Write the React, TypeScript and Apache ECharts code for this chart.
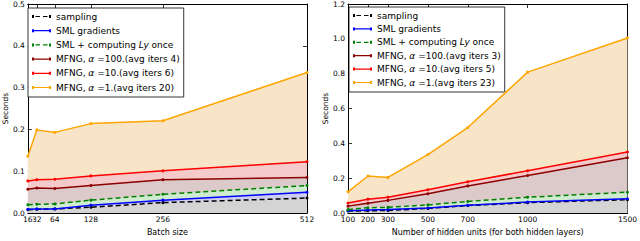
import React, { useEffect, useRef } from 'react';
import * as echarts from 'echarts';

// ---------- data ----------
const batchSizes = [16, 32, 64, 128, 256, 512];
const leftSampling = [0.008, 0.009, 0.010, 0.014, 0.025, 0.036];
const leftSmlGrad = [0.009, 0.010, 0.010, 0.019, 0.031, 0.050];
const leftSmlLy = [0.020, 0.021, 0.022, 0.031, 0.045, 0.066];
const leftMfng100 = [0.057, 0.060, 0.059, 0.066, 0.080, 0.085];
const leftMfng10 = [0.077, 0.080, 0.081, 0.089, 0.101, 0.123];
const leftMfng1 = [0.136, 0.199, 0.193, 0.214, 0.221, 0.336];

const hiddenUnits = [100, 200, 300, 500, 700, 1000, 1500];
const rightSampling = [0.012, 0.013, 0.015, 0.027, 0.043, 0.060, 0.077];
const rightSmlGrad = [0.014, 0.018, 0.020, 0.029, 0.045, 0.063, 0.082];
const rightSmlLy = [0.020, 0.031, 0.033, 0.047, 0.067, 0.091, 0.120];
const rightMfng100 = [0.040, 0.056, 0.073, 0.111, 0.156, 0.216, 0.318];
const rightMfng10 = [0.058, 0.080, 0.091, 0.134, 0.180, 0.243, 0.351];
const rightMfng1 = [0.122, 0.213, 0.205, 0.336, 0.491, 0.809, 1.005];

const leftNames = [
  'sampling',
  'SML gradients',
  'SML + computing Ly once',
  'MFNG, α =100.(avg iters 4)',
  'MFNG, α =10.(avg iters 6)',
  'MFNG, α =1.(avg iters 20)',
];
const rightNames = [
  'sampling',
  'SML gradients',
  'SML + computing Ly once',
  'MFNG, α =100.(avg iters 3)',
  'MFNG, α =10.(avg iters 5)',
  'MFNG, α =1.(avg iters 23)',
];
const leftXLabels = [16, 64, 128, 256, 512];
const leftXExtraLabels = [32];
const leftYTicks = [0, 0.1, 0.2, 0.3, 0.4, 0.5];
const rightYTicks = [0, 0.2, 0.4, 0.6, 0.8, 1.0, 1.2];

// ---------- styles ----------
const lineColors = ['#000000', '#0000ff', '#008000', '#8b0000', '#ff0000', '#ffa500'];
const bandColors = ['#d4d4d4', '#cdcdf0', '#d0ecd0', '#dccaca', '#f5caca', '#f8e4c6'];
const dashed = [true, false, true, false, false, false];
const FONT = 'DejaVu Sans';
const TICK_FONT = 7.5;

const ICON_SOLID = 'path://M0,0H2V3H0Z M2,0.9H17V2.1H2Z M17,0H19V3H17Z';
const ICON_DASH = 'path://M0,0H2V3H0Z M3.5,0.9H8V2.1H3.5Z M11,0.9H15.5V2.1H11Z M17,0H19V3H17Z';

function buildSeries(xs: number[], ys: number[][], names: string[], xi: number, yi: number) {
  const out: any[] = [];
  ys.forEach((hi, i) => {
    const lo = i > 0 ? ys[i - 1] : xs.map(() => 0);
    out.push({
      type: 'custom',
      name: 'band_' + xi + '_' + i,
      xAxisIndex: xi,
      yAxisIndex: yi,
      silent: true,
      z: 1,
      data: [[xs[0], 0]],
      renderItem: (_params: any, api: any) => {
        const pts: number[][] = [];
        for (let j = 0; j < xs.length; j++) pts.push(api.coord([xs[j], hi[j]]));
        for (let j = xs.length - 1; j >= 0; j--) pts.push(api.coord([xs[j], lo[j]]));
        return {
          type: 'polygon',
          shape: { points: pts },
          style: { fill: bandColors[i], stroke: 'none' },
        };
      },
    });
  });
  ys.forEach((arr, i) => {
    out.push({
      type: 'line',
      name: names[i],
      xAxisIndex: xi,
      yAxisIndex: yi,
      data: xs.map((x, j) => [x, arr[j]]),
      symbol: 'circle',
      symbolSize: 3,
      showSymbol: true,
      lineStyle: { color: lineColors[i], width: 1.5, type: dashed[i] ? [5, 3] : 'solid' },
      itemStyle: { color: lineColors[i] },
      z: 3 + i,
    });
  });
  return out;
}

// extra tick labels that sit on top of their neighbour (as in the reference)
function extraLabelSeries(values: number[], xi: number, yi: number) {
  return {
    type: 'custom',
    name: 'extra_labels',
    xAxisIndex: xi,
    yAxisIndex: yi,
    silent: true,
    clip: false,
    z: 10,
    data: values.map((v) => [v, 0]),
    renderItem: (_params: any, api: any) => {
      const p = api.coord([api.value(0), 0]);
      return {
        type: 'text',
        x: p[0],
        y: p[1] + 2,
        style: {
          text: String(api.value(0)),
          fill: '#000',
          fontSize: TICK_FONT,
          fontFamily: FONT,
          align: 'center',
          verticalAlign: 'top',
        },
      };
    },
  };
}

const axisLineStyle = { color: '#000', width: 1 };
const tickStyle = { color: '#000', width: 0.8 };

function xAxes(grid: number, min: number, max: number, ticks: number[], labels: number[], name: string) {
  return [
    {
      gridIndex: grid, type: 'value', min, max, position: 'bottom',
      axisLine: { onZero: false, lineStyle: axisLineStyle },
      axisTick: { inside: true, length: 4, customValues: ticks, lineStyle: tickStyle },
      axisLabel: {
        customValues: labels, fontSize: TICK_FONT, color: '#000', margin: 2, fontFamily: FONT,
        showMinLabel: true, showMaxLabel: true, hideOverlap: false,
        formatter: (v: number) => String(v),
      },
      splitLine: { show: false },
      name, nameLocation: 'middle', nameGap: 12,
      nameTextStyle: { fontSize: 8, color: '#000', fontFamily: FONT },
    },
    {
      gridIndex: grid, type: 'value', min, max, position: 'top',
      axisLine: { onZero: false, lineStyle: axisLineStyle },
      axisTick: { inside: true, length: 4, customValues: ticks, lineStyle: tickStyle },
      axisLabel: { show: false },
      splitLine: { show: false },
    },
  ];
}

function yAxes(grid: number, max: number, interval: number, ticks: number[]) {
  return [
    {
      gridIndex: grid, type: 'value', min: 0, max, interval, position: 'left',
      axisLine: { onZero: false, lineStyle: axisLineStyle },
      axisTick: { inside: true, length: 4, customValues: ticks, lineStyle: tickStyle },
      axisLabel: {
        customValues: ticks, fontSize: TICK_FONT, color: '#000', margin: 3, fontFamily: FONT,
        showMinLabel: true, showMaxLabel: true, hideOverlap: false,
        formatter: (v: number) => v.toFixed(1),
      },
      splitLine: { show: false },
      name: 'Seconds', nameLocation: 'middle', nameGap: 14,
      nameTextStyle: { fontSize: 7.5, color: '#000', fontFamily: FONT },
    },
    {
      gridIndex: grid, type: 'value', min: 0, max, interval, position: 'right',
      axisLine: { onZero: false, lineStyle: axisLineStyle },
      axisTick: { inside: true, length: 4, customValues: ticks, lineStyle: tickStyle },
      axisLabel: { show: false },
      splitLine: { show: false },
    },
  ];
}

const legendRich = { i: { fontStyle: 'italic', fontSize: 9, fontFamily: FONT, color: '#000' } };
const legendFmt = (name: string) => name.replace('α', '{i|α}').replace('Ly', '{i|Ly}');

function legendOf(names: string[], left: number, top: number, gap: number) {
  return {
    data: names.map((n, i) => ({ name: n, icon: dashed[i] ? ICON_DASH : ICON_SOLID })),
    orient: 'vertical',
    left, top,
    itemWidth: 19,
    itemHeight: 3,
    itemGap: gap,
    padding: [3, 4, 4, 4],
    borderColor: '#000',
    borderWidth: 0.8,
    backgroundColor: '#fff',
    selectedMode: false,
    itemStyle: { borderWidth: 0 },
    textStyle: { fontSize: 9, color: '#000', fontFamily: FONT, lineHeight: 11, rich: legendRich },
    formatter: legendFmt,
  };
}

export default function App() {
  const ref = useRef<HTMLDivElement>(null);
  useEffect(() => {
    if (!ref.current) return;
    const chart = echarts.init(ref.current, undefined, { renderer: 'svg' });
    const option: any = {
      animation: false,
      backgroundColor: '#fff',
      textStyle: { fontFamily: FONT },
      grid: [
        { left: 23, top: 4, width: 284, height: 219 },
        { left: 348, top: 3, width: 283, height: 219 },
      ],
      xAxis: [
        ...xAxes(0, 16, 512, batchSizes, leftXLabels, 'Batch size'),
        ...xAxes(1, 100, 1500, hiddenUnits, hiddenUnits, 'Number of hidden units (for both hidden layers)'),
      ],
      yAxis: [
        ...yAxes(0, 0.5, 0.1, leftYTicks),
        ...yAxes(1, 1.2, 0.2, rightYTicks),
      ],
      legend: [legendOf(leftNames, 28, 8, 3.2), legendOf(rightNames, 349, 7, 2.4)],
      series: [
        ...buildSeries(batchSizes, [leftSampling, leftSmlGrad, leftSmlLy, leftMfng100, leftMfng10, leftMfng1], leftNames, 0, 0),
        ...buildSeries(hiddenUnits, [rightSampling, rightSmlGrad, rightSmlLy, rightMfng100, rightMfng10, rightMfng1], rightNames, 2, 2),
        extraLabelSeries(leftXExtraLabels, 0, 0),
      ],
    };
    chart.setOption(option);
    return () => chart.dispose();
  }, []);
  return <div ref={ref} style={{ position: 'fixed', left: 0, top: 0, width: 640, height: 241 }} />;
}
